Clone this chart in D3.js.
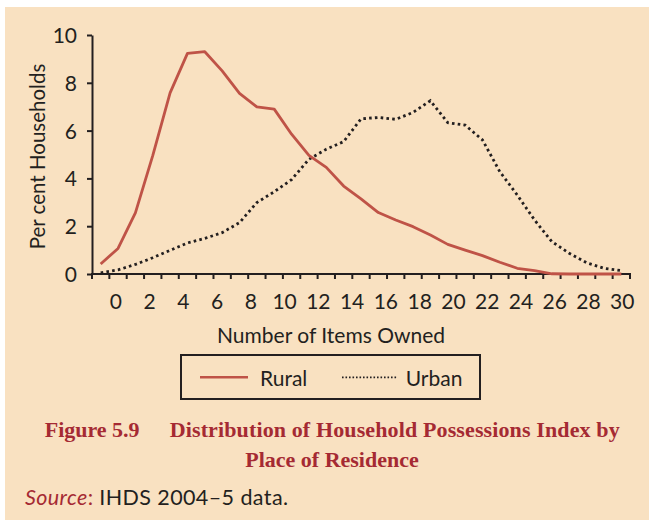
<!DOCTYPE html>
<html>
<head>
<meta charset="utf-8">
<script src="https://cdn.jsdelivr.net/npm/d3@7"></script>
<style>
  body { margin: 0; background: #fff; }
  svg { display: block; }
  .sans { font-family: Lato, "Open Sans", sans-serif; fill: #231f20; }
</style>
</head>
<body>
<svg id="chart" width="649" height="523"></svg>
<script>
// number of items owned (one point per category)
const categories = [0, 1, 2, 3, 4, 5, 6, 7, 8, 9, 10, 11, 12, 13, 14, 15,
  16, 17, 18, 19, 20, 21, 22, 23, 24, 25, 26, 27, 28, 29, 30];
// per cent households
const rural = [0.42, 1.07, 2.56, 4.95, 7.58, 9.23, 9.30, 8.50, 7.56, 6.99, 6.90,
  5.85, 4.96, 4.46, 3.68, 3.14, 2.57, 2.26, 1.98, 1.63, 1.24, 1.00, 0.77, 0.49,
  0.24, 0.14, 0.01, 0, 0, 0, 0];
const urban = [0.05, 0.17, 0.40, 0.68, 0.99, 1.30, 1.49, 1.73, 2.15, 2.99, 3.44,
  3.95, 4.80, 5.22, 5.54, 6.49, 6.55, 6.47, 6.76, 7.25, 6.33, 6.23, 5.61, 4.28,
  3.31, 2.26, 1.35, 0.87, 0.47, 0.24, 0.14];
const xTickLabels = [0, 2, 4, 6, 8, 10, 12, 14, 16, 18, 20, 22, 24, 26, 28, 30];
const yTicks = [0, 2, 4, 6, 8, 10];

const svg = d3.select("#chart");
const ink = "#231f20";
const red = "#bf5347";
const titleRed = "#a52a33";

// peach panel
svg.append("rect")
  .attr("x", 5).attr("y", 7)
  .attr("width", 644).attr("height", 513)
  .attr("fill", "#f9e1c1");

const plot = { left: 92, right: 630, top: 35, bottom: 274 };

const xBand = d3.scaleBand().domain(categories).range([plot.left, plot.right]);
const xMid = (d) => xBand(d) + xBand.bandwidth() / 2;
// the printed labels do not sit exactly on the categories
const xLabel = d3.scaleLinear().domain([0, 30]).range([115.3, 621.7]);
const y = d3.scaleLinear().domain([0, 10]).range([plot.bottom, plot.top]);

// y axis
const yAxis = svg.append("g")
  .attr("transform", `translate(${plot.left},0)`)
  .call(d3.axisLeft(y).tickValues(yTicks).tickSize(5).tickPadding(10).tickSizeOuter(0));
yAxis.select(".domain").attr("stroke", ink).attr("stroke-width", 2);
yAxis.selectAll(".tick line").attr("stroke", ink).attr("stroke-width", 2);
yAxis.selectAll(".tick text")
  .attr("class", "sans").attr("font-size", 21).attr("dy", "0.36em");

// x axis: line + tick marks at category boundaries
const xAxis = svg.append("g")
  .attr("transform", `translate(0,${plot.bottom})`);
xAxis.append("line")
  .attr("x1", plot.left - 1).attr("x2", plot.right + 1)
  .attr("stroke", ink).attr("stroke-width", 2);
const edges = categories.map((d) => xBand(d)).concat([plot.right]);
xAxis.selectAll("line.tk")
  .data(edges)
  .join("line")
  .attr("class", "tk")
  .attr("x1", (d) => d).attr("x2", (d) => d)
  .attr("y1", 0).attr("y2", 5)
  .attr("stroke", ink).attr("stroke-width", 2);

const xLab = svg.append("g")
  .attr("transform", `translate(0,${plot.bottom})`)
  .call(d3.axisBottom(xLabel).tickValues(xTickLabels).tickSize(0).tickPadding(20));
xLab.select(".domain").remove();
xLab.selectAll(".tick text")
  .attr("class", "sans").attr("font-size", 21).attr("dy", "0.71em");

// lines
const line = (vals) => d3.line()
  .x((d, i) => xMid(categories[i]))
  .y((d) => y(d))(vals);

svg.append("path")
  .attr("d", line(urban))
  .attr("fill", "none")
  .attr("stroke", ink)
  .attr("stroke-width", 2.8)
  .attr("stroke-dasharray", "2.6,3.2");

svg.append("path")
  .attr("d", line(rural))
  .attr("fill", "none")
  .attr("stroke", red)
  .attr("stroke-width", 2.8)
  .attr("stroke-linejoin", "round");

// axis titles
svg.append("text")
  .attr("class", "sans")
  .attr("transform", "translate(45,156.5) rotate(-90)")
  .attr("text-anchor", "middle")
  .attr("font-size", 20.5)
  .text("Per cent Households");

svg.append("text")
  .attr("class", "sans")
  .attr("x", 331).attr("y", 342.7)
  .attr("text-anchor", "middle")
  .attr("font-size", 21)
  .text("Number of Items Owned");

// legend
const legend = svg.append("g");
legend.append("rect")
  .attr("x", 181).attr("y", 355)
  .attr("width", 299).attr("height", 44)
  .attr("fill", "none").attr("stroke", ink).attr("stroke-width", 2);
legend.append("line")
  .attr("x1", 200).attr("x2", 248).attr("y1", 377.3).attr("y2", 377.3)
  .attr("stroke", red).attr("stroke-width", 2.5);
legend.append("text").attr("class", "sans")
  .attr("x", 260).attr("y", 385.7).attr("font-size", 21).text("Rural");
legend.append("line")
  .attr("x1", 342).attr("x2", 397).attr("y1", 377.3).attr("y2", 377.3)
  .attr("stroke", ink).attr("stroke-width", 1.8)
  .attr("stroke-dasharray", "1.6,1.9");
legend.append("text").attr("class", "sans")
  .attr("x", 405.7).attr("y", 385.7).attr("font-size", 21).text("Urban");

// figure caption
const cap = svg.append("g")
  .attr("font-family", "'Liberation Serif', 'DejaVu Serif', serif")
  .attr("font-weight", "bold")
  .attr("font-size", 22)
  .attr("fill", titleRed);
cap.append("text").attr("x", 44.7).attr("y", 437.3).text("Figure 5.9");
cap.append("text").attr("x", 169.7).attr("y", 437.3)
  .attr("textLength", 450).attr("lengthAdjust", "spacing")
  .text("Distribution of Household Possessions Index by");
cap.append("text").attr("x", 332).attr("y", 467.3)
  .attr("text-anchor", "middle").text("Place of Residence");

// source
const src = svg.append("text").attr("class", "sans")
  .attr("x", 25).attr("y", 505).attr("font-size", 21.5)
  .attr("letter-spacing", 0.4);
src.append("tspan").attr("fill", titleRed).attr("font-style", "italic").text("Source");
src.append("tspan").attr("fill", titleRed).text(":");
src.append("tspan").text(" IHDS 2004\u20135 data.");
</script>
</body>
</html>
